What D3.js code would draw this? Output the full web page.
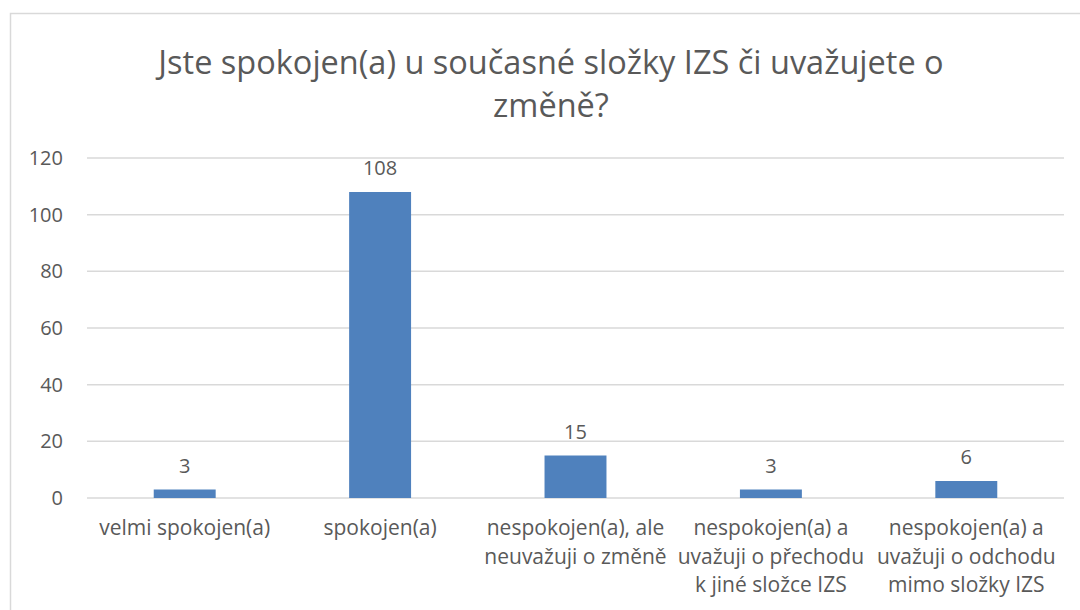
<!DOCTYPE html>
<html>
<head>
<meta charset="utf-8">
<script src="https://cdn.jsdelivr.net/npm/d3@7"></script>
<style>
  body { margin: 0; background: #fff; }
  text { font-family: "Open Sans", Lato, sans-serif; fill: #595959; }
</style>
</head>
<body>
<div id="chart"></div>
<script>
// data
const categories = [
    ["velmi spokojen(a)"],
    ["spokojen(a)"],
    ["nespokojen(a), ale", "neuvažuji o změně"],
    ["nespokojen(a) a", "uvažuji o přechodu", "k jiné složce IZS"],
    ["nespokojen(a) a", "uvažuji o odchodu", "mimo složky IZS"]
];
const values = [3, 108, 15, 3, 6];
const yTicks = [0, 20, 40, 60, 80, 100, 120];
const titleLines = ["Jste spokojen(a) u současné složky IZS či uvažujete o", "změně?"];

const w = 1080, h = 610;
const plotLeft = 87, plotRight = 1064, plotTop = 158, plotBottom = 498;

const svg = d3.select("#chart").append("svg")
    .attr("width", w).attr("height", h);

svg.append("rect").attr("width", w).attr("height", h).attr("fill", "#fff");

// chart frame
svg.append("rect")
    .attr("x", 10.5).attr("y", 13.5)
    .attr("width", 1100).attr("height", 700)
    .attr("fill", "none").attr("stroke", "#d9d9d9").attr("stroke-width", 1.5);

// title
svg.append("text")
    .attr("x", 551).attr("y", 74)
    .attr("text-anchor", "middle")
    .style("font-size", "32.5px")
    .selectAll("tspan")
    .data(titleLines)
    .enter().append("tspan")
    .attr("x", 551)
    .attr("dy", (d, i) => i == 0 ? 0 : 43)
    .text(d => d);

const x = d3.scaleBand()
    .domain(d3.range(values.length))
    .range([plotLeft, plotRight])
    .paddingInner(0.683)
    .paddingOuter(0.3415);

const y = d3.scaleLinear().domain([0, 120]).range([plotBottom, plotTop]);

// gridlines
svg.append("g").selectAll("line")
    .data(yTicks)
    .enter().append("line")
    .attr("x1", plotLeft).attr("x2", plotRight)
    .attr("y1", d => y(d)).attr("y2", d => y(d))
    .attr("stroke", "#d9d9d9").attr("stroke-width", 1.5);

// y axis labels
const yAxis = svg.append("g")
    .attr("transform", "translate(" + (plotLeft - 6) + ",0)")
    .call(d3.axisLeft(y).tickValues(yTicks).tickSize(0).tickPadding(18));
yAxis.select(".domain").remove();
yAxis.selectAll("text")
    .style("font-size", "20px")
    .style("font-family", "'Open Sans', sans-serif")
    .attr("fill", "#595959");

// bars
svg.append("g").selectAll("rect")
    .data(values)
    .enter().append("rect")
    .attr("x", (d, i) => x(i))
    .attr("y", d => y(d))
    .attr("width", x.bandwidth())
    .attr("height", d => plotBottom - y(d))
    .attr("fill", "#4f81bd");

// data labels
svg.append("g").selectAll("text")
    .data(values)
    .enter().append("text")
    .attr("x", (d, i) => x(i) + x.bandwidth() / 2)
    .attr("y", d => y(d) - 17)
    .attr("text-anchor", "middle")
    .style("font-size", "20px")
    .text(d => d);

// category labels
const cats = svg.append("g").selectAll("text")
    .data(categories)
    .enter().append("text")
    .attr("text-anchor", "middle")
    .style("font-size", "21px")
    .attr("y", 535);

cats.selectAll("tspan")
    .data((d, i) => d.map(line => ({line: line, i: i})))
    .enter().append("tspan")
    .attr("x", d => x(d.i) + x.bandwidth() / 2)
    .attr("dy", (d, j) => j == 0 ? 0 : 28.5)
    .text(d => d.line);
</script>
</body>
</html>
